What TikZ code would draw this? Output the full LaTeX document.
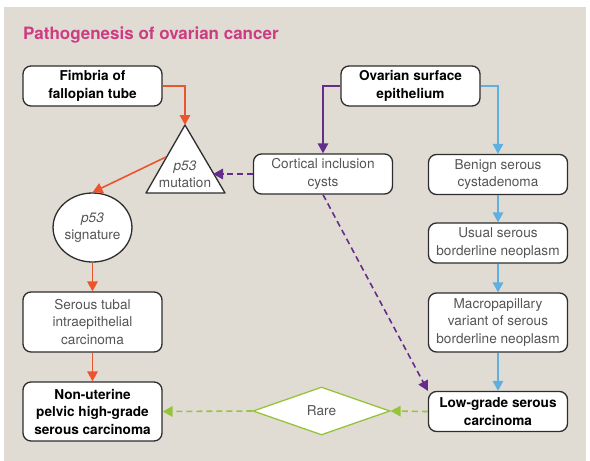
\documentclass[tikz,border=0pt]{standalone}
\usepackage{fontspec}
\setmainfont{TeX Gyre Heros}
\usetikzlibrary{arrows.meta,shapes.geometric}
\definecolor{bgbeige}{RGB}{225,220,211}
\definecolor{boxline}{RGB}{45,45,45}
\definecolor{txtgray}{RGB}{85,85,85}
\definecolor{titlepink}{RGB}{205,60,130}
\definecolor{rorange}{RGB}{234,85,45}
\definecolor{rpurple}{RGB}{100,45,140}
\definecolor{rblue}{RGB}{95,175,225}
\definecolor{rgreen}{RGB}{150,195,60}
\begin{document}
\begin{tikzpicture}[x=1pt,y=-1pt]
		\tikzstyle{box}=[draw=boxline, line width=1.3pt, rounded corners=8pt, fill=white, minimum width=139pt, minimum height=40pt, inner sep=2pt, align=center, text=txtgray, font=\fontsize{13.6}{17.3}\selectfont]
		\tikzstyle{boldbox}=[box, text=black, font=\bfseries\fontsize{13.6}{17.5}\selectfont]
		\tikzstyle{arr}=[draw, line width=1.6pt, -{Triangle[length=10pt,width=10.5pt]}]
		\tikzstyle{dashline}=[dash pattern=on 6pt off 4pt]
		
		\useasboundingbox (0,0) rectangle (590,461);
		\fill[white] (0,0) rectangle (590,461);
		\fill[bgbeige] (4,7) rectangle (586,461);
		
		\node[anchor=base west, text=titlepink, font=\bfseries\fontsize{17}{20}\selectfont, inner sep=0pt] (title) at (23,39) {Pathogenesis of ovarian cancer};
		
		\node[boldbox] (fim) at (92.5,86) {Fimbria of\\fallopian tube};
		\node[boldbox] (ose) at (410.5,86) {Ovarian surface\\epithelium};
		\node[box] (cic) at (323,174) {Cortical inclusion\\cysts};
		\node[box] (bsc) at (498,174.5) {Benign serous\\cystadenoma};
		\node[box] (usb) at (498,243) {Usual serous\\borderline neoplasm};
		\node[box, minimum height=59pt] (mac) at (498,322.5) {Macropapillary\\variant of serous\\borderline neoplasm};
		\node[boldbox] (lgs) at (498,411.5) {Low-grade serous\\carcinoma};
		\node[box, minimum height=60pt] (stic) at (92.5,322) {Serous tubal\\intraepithelial\\carcinoma};
		\node[boldbox, minimum height=59pt] (hgs) at (92.5,411.5) {Non-uterine\\pelvic high-grade\\serous carcinoma};
		\node[box, ellipse, rounded corners=0pt, minimum width=73pt, minimum height=69pt, inner sep=0pt] (sig) at (92.5,227.5) {\textit{p53}\\signature};
		\node[box, diamond, draw=rgreen, rounded corners=0pt, minimum width=137pt, minimum height=48pt, inner sep=0pt] (rare) at (321.5,411) {Rare};
		
		\coordinate (tapex) at (185,125);
		\coordinate (tleft) at (146,193);
		\coordinate (tright) at (225,193);
		\coordinate (tout) at (166,157);
		\coordinate (tin) at (213,174);
		\draw[draw=boxline, fill=white, line width=1.3pt, line join=round] (tapex) -- (tleft) -- (tright) -- cycle;
		\node[align=center, text=txtgray, font=\fontsize{13.6}{17}\selectfont, inner sep=0pt] (mut) at (185,174) {\textit{p53}\\mutation};
		
		\draw[arr, rorange] (fim.east) -| (tapex);
		\draw[arr, rorange] (tout) -- (sig.north);
		\draw[arr, rorange] (sig) -- (stic);
		\draw[arr, rorange] (stic) -- (hgs);
		
		\draw[arr, rpurple] (ose.west) -| (cic);
		\draw[arr, rpurple, dashline] (cic.west) -- (tin);
		\draw[arr, rpurple, dashline] (cic.south) -- (lgs.north west);
		
		\draw[arr, rblue] (ose.east) -| (bsc);
		\draw[arr, rblue] (bsc) -- (usb);
		\draw[arr, rblue] (usb) -- (mac);
		\draw[arr, rblue] (mac) -- (lgs);
		
		\draw[arr, rgreen, dashline] (lgs.west) -- (rare.east);
		\draw[arr, rgreen, dashline] (rare.west) -- (hgs.east);
		\end{tikzpicture}
\end{document}
